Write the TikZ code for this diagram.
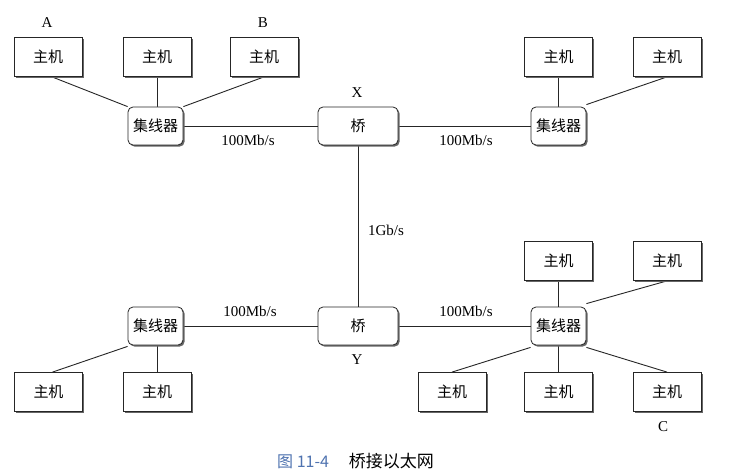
\documentclass[tikz,border=0pt]{standalone}
\usepackage{fontspec}
\setmainfont{Liberation Serif}
\newfontfamily\cjk{Noto Sans CJK SC}
\usetikzlibrary{shadows,backgrounds}
\definecolor{capblue}{HTML}{4F73B0}
\begin{document}
\begin{tikzpicture}[x=1pt,y=-1pt,
  every node/.style={font=\fontsize{15}{17}\selectfont},
  host/.style={draw=black!85, line width=0.8pt, fill=white, minimum width=68pt, minimum height=39pt, inner sep=0pt,
     font=\cjk\fontsize{15}{17}\selectfont,
     drop shadow={shadow xshift=1.6pt, shadow yshift=-1.6pt, fill=black!60, opacity=1}},
  hub/.style={host, rounded corners=5pt, minimum width=55pt, minimum height=38pt},
  bridge/.style={hub, minimum width=80pt},
  link/.style={line width=0.9pt, black!85},
  lbl/.style={inner sep=0pt}]
\useasboundingbox (0,0) rectangle (753,476);
% top left
\node[host] (hA) at (48,57) {主机};
\node[host] (h2) at (157,57) {主机};
\node[host] (hB) at (264,57) {主机};
\node[hub] (hub1) at (155.5,126) {集线器};
\node[bridge] (bX) at (358,126) {桥};
% top right
\node[hub] (hub2) at (558.5,126) {集线器};
\node[host] (h4) at (558.5,57) {主机};
\node[host] (h5) at (667,57) {主机};
% bottom left
\node[bridge] (bY) at (358,326) {桥};
\node[hub] (hub3) at (155.5,326) {集线器};
\node[host] (h6) at (48.5,392) {主机};
\node[host] (h7) at (157,392) {主机};
% bottom right
\node[hub] (hub4) at (558.5,326) {集线器};
\node[host] (h8) at (558.5,261) {主机};
\node[host] (h9) at (667,261) {主机};
\node[host] (h10) at (452,392) {主机};
\node[host] (h11) at (558.5,392) {主机};
\node[host] (h12) at (667,392) {主机};
% labels
\node[lbl] (lA) at (47,23) {A};
\node[lbl] (lB) at (263,23) {B};
\node[lbl] (lC) at (663,427) {C};
\node[lbl] (lX) at (357,93) {X};
\node[lbl] (lY) at (357,360) {Y};
\node[lbl] (r1) at (248,140) {100Mb/s};
\node[lbl] (r2) at (466,140) {100Mb/s};
\node[lbl] (r3) at (250,311) {100Mb/s};
\node[lbl] (r4) at (466,311) {100Mb/s};
\node[lbl] (r5) at (386,230) {1Gb/s};
\node[lbl, anchor=west] (cap) at (277,461) {{\color{capblue}\cjk\fontsize{16}{18}\selectfont 图 11-4}\hspace{20pt}{\cjk\fontsize{17}{18}\selectfont 桥接以太网}};
% connectors
\begin{pgfonlayer}{background}
\fill[white] (0,0) rectangle (753,476);
\draw[link] ([xshift=4pt]hA.south) -- (hub1.north west);
\draw[link] (h2.south) -- (h2.south |- hub1.north);
\draw[link] (hB.south) -- (hub1.north east);
\draw[link] (hub1.east) -- (bX.west);
\draw[link] (bX.east) -- (hub2.west);
\draw[link] (h4.south) -- (hub2.north);
\draw[link] (h5.south) -- ([yshift=2pt]hub2.north east);
\draw[link] (bX.south) -- (bY.north);
\draw[link] (hub3.east) -- (bY.west);
\draw[link] (bY.east) -- (hub4.west);
\draw[link] ([xshift=4pt]h6.north) -- ([yshift=-1pt]hub3.south west);
\draw[link] (hub3.south) -- (hub3.south -| h7.north) -- (h7.north);
\draw[link] (h8.south) -- (hub4.north);
\draw[link] (h9.south) -- ([yshift=3pt]hub4.north east);
\draw[link] (h10.north) -- ([yshift=-2pt]hub4.south west);
\draw[link] (h11.north) -- (hub4.south);
\draw[link] (h12.north) -- ([yshift=-2pt]hub4.south east);
\end{pgfonlayer}
\end{tikzpicture}
\end{document}
